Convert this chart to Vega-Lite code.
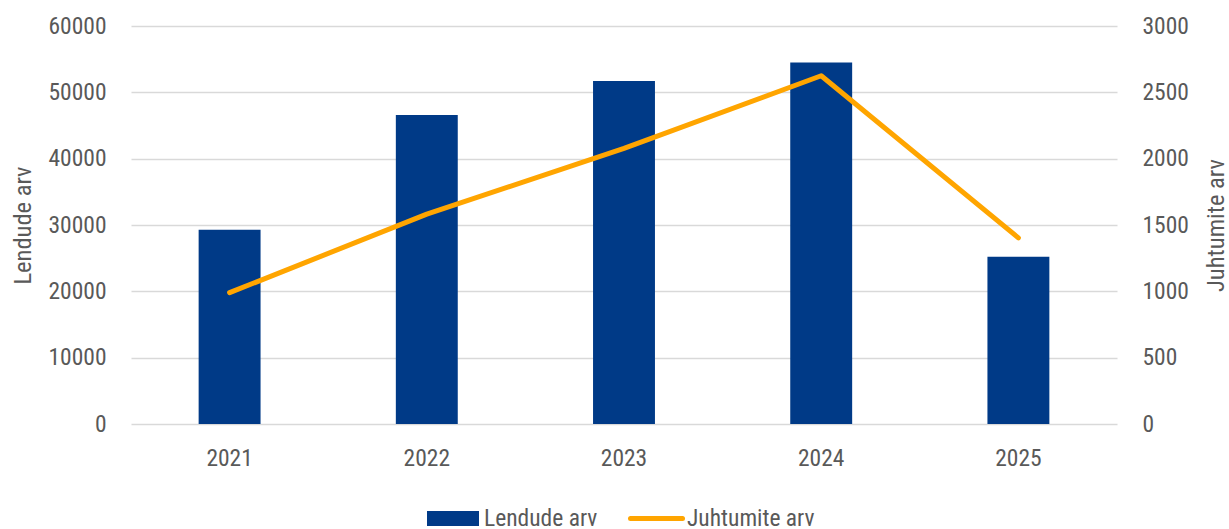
{
  "$schema": "https://vega.github.io/schema/vega-lite/v6.json",
  "width": 986,
  "height": 398,
  "autosize": {"type": "none"},
  "padding": {"left": 131, "top": 26, "right": 112, "bottom": 105},
  "background": "white",
  "config": {
    "view": {"stroke": null},
    "font": "Roboto Condensed, Liberation Sans Narrow, Roboto",
    "axis": {"labelColor": "#595959", "titleColor": "#595959", "labelFontSize": 23.5, "titleFontSize": 24.5, "titleFontWeight": "normal", "gridColor": "#D9D9D9", "gridWidth": 1.5},
    "legend": {"labelFontSize": 23.5, "labelColor": "#595959", "padding": 0}
  },
  "data": {
    "values": [
      {"year": "2021", "lendude": 29300, "juhtumid": 990},
      {"year": "2022", "lendude": 46600, "juhtumid": 1582},
      {"year": "2023", "lendude": 51700, "juhtumid": 2077},
      {"year": "2024", "lendude": 54500, "juhtumid": 2625},
      {"year": "2025", "lendude": 25200, "juhtumid": 1403}
    ]
  },
  "encoding": {
    "x": {
      "field": "year",
      "type": "nominal",
      "scale": {"paddingInner": 0.686, "paddingOuter": 0.343},
      "axis": {"title": null, "labelAngle": 0, "domain": false, "ticks": false, "labelPadding": 22}
    }
  },
  "layer": [
    {
      "mark": {"type": "bar"},
      "encoding": {
        "y": {
          "field": "lendude",
          "type": "quantitative",
          "scale": {"domain": [0, 60000]},
          "axis": {"title": "Lendude arv", "values": [0, 10000, 20000, 30000, 40000, 50000, 60000], "format": "d", "domain": false, "ticks": false, "labelPadding": 25, "titlePadding": 12}
        },
        "fill": {
          "datum": "Lendude arv",
          "type": "nominal",
          "scale": {"domain": ["Lendude arv"], "range": ["#003A87"]},
          "legend": {
            "title": null,
            "orient": "none",
            "legendX": 293.5,
            "legendY": 464,
            "labelOffset": 2.5,
            "symbolType": "M-1,-0.29H1V0.29H-1Z",
            "symbolSize": 2704,
            "symbolStrokeWidth": 5,
            "symbolOpacity": 1,
            "encode": {"symbols": {"update": {"stroke": {"value": "transparent"}, "fill": {"value": "#003A87"}}}}
          }
        }
      }
    },
    {
      "mark": {"type": "line", "strokeWidth": 5, "strokeCap": "round", "strokeJoin": "round"},
      "encoding": {
        "y": {
          "field": "juhtumid",
          "type": "quantitative",
          "scale": {"domain": [0, 3000]},
          "axis": {"orient": "right", "title": "Juhtumite arv", "titleAngle": 270, "values": [0, 500, 1000, 1500, 2000, 2500, 3000], "format": "d", "grid": false, "domain": false, "ticks": false, "labelPadding": 25, "titlePadding": 40}
        },
        "stroke": {
          "datum": "Juhtumite arv",
          "type": "nominal",
          "scale": {"domain": ["Juhtumite arv"], "range": ["#FFA500"]},
          "legend": {
            "title": null,
            "orient": "none",
            "legendX": 497,
            "legendY": 464,
            "labelOffset": 2,
            "symbolType": "M-1,0H1",
            "symbolSize": 2704,
            "symbolStrokeWidth": 5,
            "symbolOpacity": 1,
            "encode": {"symbols": {"update": {"stroke": {"value": "#FFA500"}, "fill": {"value": "transparent"}, "strokeCap": {"value": "round"}}}}
          }
        }
      }
    }
  ],
  "resolve": {"scale": {"y": "independent"}}
}
